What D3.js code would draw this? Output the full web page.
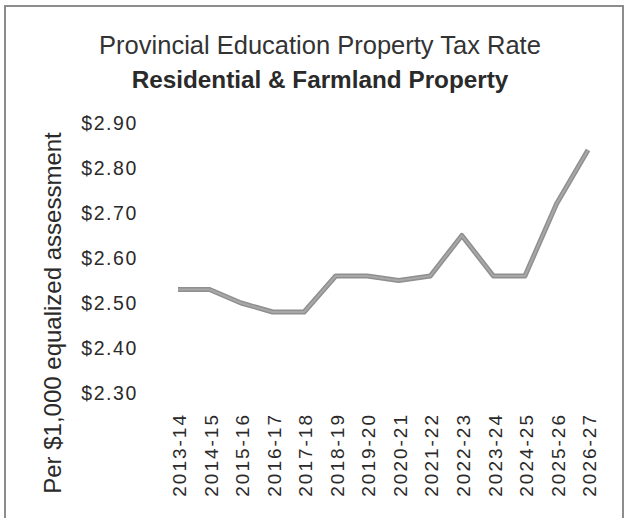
<!DOCTYPE html>
<html>
<head>
<meta charset="utf-8">
<script src="https://cdn.jsdelivr.net/npm/d3@7"></script>
<style>
  body { margin: 0; background: #fff; }
  text { font-family: "Liberation Sans", Arial, sans-serif; fill: #2a2a2a; }
</style>
</head>
<body>
<div id="chart"></div>
<script>
// fiscal years and tax rate ($ per $1,000 equalized assessment)
var years = ["2013-14", "2014-15", "2015-16", "2016-17", "2017-18", "2018-19", "2019-20",
             "2020-21", "2021-22", "2022-23", "2023-24", "2024-25", "2025-26", "2026-27"];
var rates = [2.53, 2.53, 2.50, 2.48, 2.48, 2.56, 2.56, 2.55, 2.56, 2.65, 2.56, 2.56, 2.72, 2.84];
var yTicks = [2.30, 2.40, 2.50, 2.60, 2.70, 2.80, 2.90];

var W = 626, H = 518;
var margin = {top: 123, left: 178};
var plotW = 410, plotH = 270;

var svg = d3.select("#chart").append("svg").attr("width", W).attr("height", H);

// outer frame
svg.append("rect").attr("x", 5).attr("y", 6).attr("width", 618).attr("height", 530)
  .style("fill", "none").style("stroke", "#8c8c8c").style("stroke-width", 2);

// titles
svg.append("text").attr("x", 320).attr("y", 54).attr("text-anchor", "middle")
  .style("font-size", "25.5px").style("fill", "#333").text("Provincial Education Property Tax Rate");
svg.append("text").attr("x", 320).attr("y", 88).attr("text-anchor", "middle")
  .style("font-size", "24.3px").style("font-weight", "bold").text("Residential & Farmland Property");

var g = svg.append("g").attr("transform", "translate(" + margin.left + "," + margin.top + ")");

var x = d3.scalePoint().domain(years).range([0, plotW]);
var y = d3.scaleLinear().domain([2.30, 2.90]).range([plotH, 0]);

// Y axis (labels only)
var yAxis = g.append("g").attr("transform", "translate(-40,0)")
  .call(d3.axisLeft(y).tickValues(yTicks).tickSize(0).tickPadding(0).tickFormat(function(d) { return "$" + d.toFixed(2); }));
yAxis.select(".domain").remove();
yAxis.selectAll("text").style("font-size", "19.5px").style("letter-spacing", "1.6px").style("fill", "#2a2a2a");

// X axis (rotated labels only)
var xAxis = g.append("g").attr("transform", "translate(0," + plotH + ")")
  .call(d3.axisBottom(x).tickSize(0).tickPadding(0));
xAxis.select(".domain").remove();
xAxis.selectAll("text")
  .style("font-size", "19px").style("letter-spacing", "2px").style("fill", "#2a2a2a")
  .attr("text-anchor", "end").attr("dy", "0.35em")
  .attr("transform", "translate(1,20) rotate(-90)");

// Y axis title
svg.append("text").attr("text-anchor", "middle")
  .attr("transform", "translate(61,313) rotate(-90)")
  .style("font-size", "24px").text("Per $1,000 equalized assessment");

// line: darker edge, lighter core
var line = d3.line().x(function(d, i) { return x(years[i]); }).y(function(d) { return y(d); });
g.append("path").datum(rates).attr("d", line)
  .style("fill", "none").style("stroke", "#8f8f8f").style("stroke-width", 5)
  .style("stroke-linejoin", "round");
g.append("path").datum(rates).attr("d", line)
  .style("fill", "none").style("stroke", "#a8a8a8").style("stroke-width", 2)
  .style("stroke-linejoin", "round");
</script>
</body>
</html>
